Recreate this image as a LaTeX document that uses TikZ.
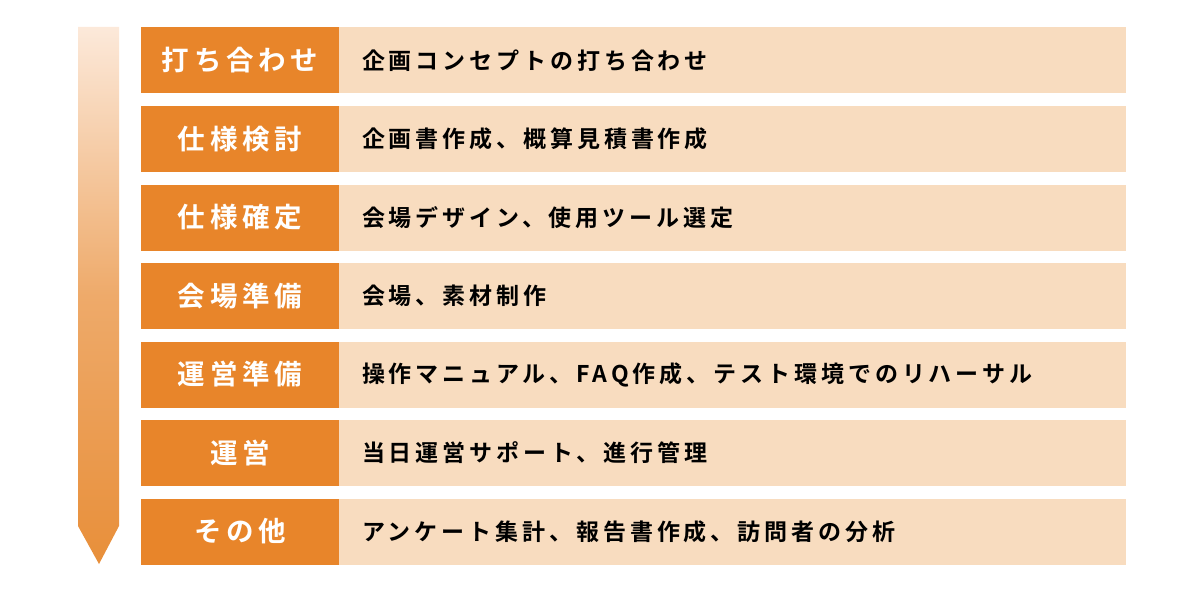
\documentclass[tikz,border=0pt]{standalone}
\usepackage{fontspec}
\usepackage{tikz}
\newfontfamily\jplabel[LetterSpace=17]{Noto Sans CJK JP Bold}
\newfontfamily\jptext[LetterSpace=17]{Noto Sans CJK JP Bold}
\definecolor{stageorange}{HTML}{E8852A}
\definecolor{stagepeach}{HTML}{F8DCBF}
\definecolor{arrowlight}{HTML}{FCE9DA}
\definecolor{arrowdark}{HTML}{E88F3A}
\tikzset{
  stagebox/.style={rectangle, fill=stageorange, text=white, minimum width=198pt, minimum height=66pt, inner sep=0pt, font=\jplabel\fontsize{27.5pt}{30pt}\selectfont},
  taskbox/.style={rectangle, fill=stagepeach, text=black, text width=741pt, inner xsep=23pt, inner ysep=0pt, minimum height=66pt, align=left, font=\jptext\fontsize{23pt}{26pt}\selectfont}
}
\begin{document}
\begin{tikzpicture}[x=1pt,y=-1pt]
    \useasboundingbox (0,0) rectangle (1190,591);
    \shade[top color=arrowlight, bottom color=arrowdark, middle color=arrowdark!70!arrowlight] (78,27) -- (119,27) -- (119,526) -- (99,564) -- (78,526) -- cycle;
    \node[stagebox] (s1) at (240,60.5) {打ち合わせ};
    \node[taskbox] (t1) at (732.5,60.5) {企画コンセプトの打ち合わせ};
    \node[stagebox] (s2) at (240,139) {仕様検討};
    \node[taskbox] (t2) at (732.5,139) {企画書作成、概算見積書作成};
    \node[stagebox] (s3) at (240,217.5) {仕様確定};
    \node[taskbox] (t3) at (732.5,217.5) {会場デザイン、使用ツール選定};
    \node[stagebox] (s4) at (240,296) {会場準備};
    \node[taskbox] (t4) at (732.5,296) {会場、素材制作};
    \node[stagebox] (s5) at (240,374.5) {運営準備};
    \node[taskbox] (t5) at (732.5,374.5) {操作マニュアル、FAQ作成、テスト環境でのリハーサル};
    \node[stagebox] (s6) at (240,453) {運営};
    \node[taskbox] (t6) at (732.5,453) {当日運営サポート、進行管理};
    \node[stagebox] (s7) at (240,531.5) {その他};
    \node[taskbox] (t7) at (732.5,531.5) {アンケート集計、報告書作成、訪問者の分析};
\end{tikzpicture}
\end{document}
